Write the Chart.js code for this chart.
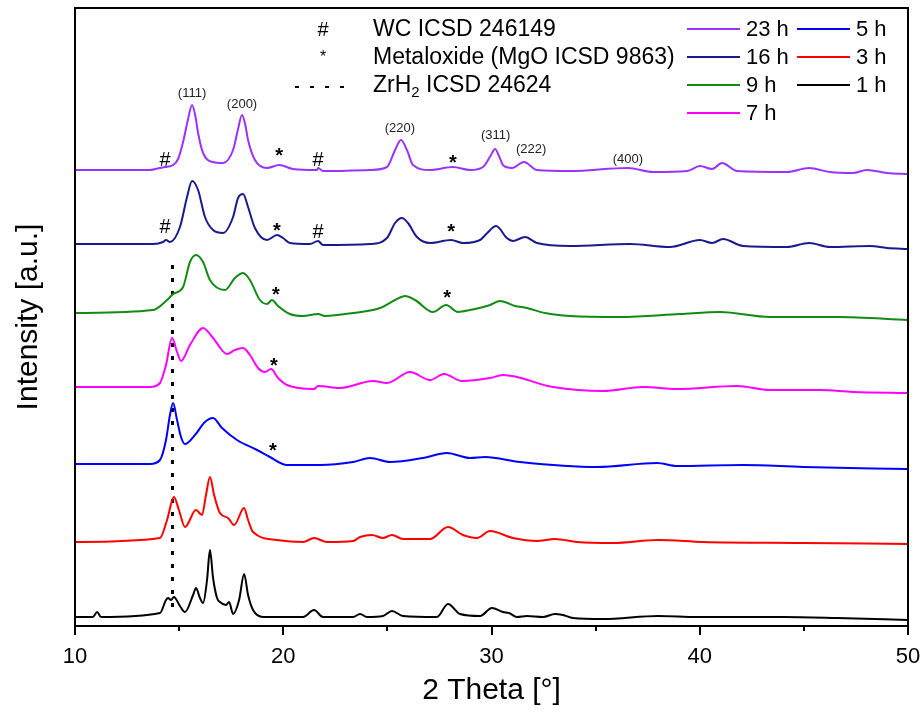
<!DOCTYPE html>
<html>
<head>
<meta charset="utf-8">
<script src="https://cdn.jsdelivr.net/npm/chart.js@4/dist/chart.umd.min.js"></script>
<style>
  html, body { margin: 0; padding: 0; background: #fff; }
  canvas { display: block; }
</style>
</head>
<body>
<canvas id="xrd" width="924" height="720"></canvas>
<script>
// Stacked XRD patterns, intensity already offset per milling time (a.u.)
const h23 = [[10.0,456],[13.6,456],[14.08,458],[14.32,459],[14.71,461],[14.95,467],[15.19,484],[15.42,506],[15.62,521],[15.78,510],[15.91,493],[16.15,473],[16.63,464],[17.11,463],[17.59,476],[17.82,496],[18.02,511],[18.17,502],[18.31,486],[18.64,466],[19.22,458],[19.8,461],[20.47,457],[21.62,456],[21.67,458],[21.91,455],[24.17,456],[24.98,459],[25.37,476],[25.65,486],[25.94,476],[26.23,461],[27.05,456],[28.15,459],[28.97,456],[29.59,459],[29.95,470],[30.17,477],[30.38,469],[30.55,461],[30.98,458],[31.56,464],[32.18,456],[33.77,455],[36.55,458],[37.76,454],[39.39,455],[40.01,460],[40.59,457],[41.07,463],[41.79,455],[44.19,454],[45.25,458],[46.25,454],[47.36,453],[48.03,456],[48.99,453],[50.0,452]];
const h16 = [[10.0,382],[13.75,382],[14.23,384],[14.37,386],[14.56,384],[15.04,399],[15.38,429],[15.62,445],[15.91,436],[16.24,409],[16.63,396],[17.11,393],[17.59,409],[17.83,428],[18.07,432],[18.31,419],[18.64,398],[19.22,386],[19.7,391],[19.99,388],[20.32,383],[21.28,382],[21.67,385],[21.91,381],[24.17,382],[24.98,388],[25.37,403],[25.7,408],[25.99,403],[26.42,389],[27.05,383],[28.06,386],[28.63,383],[29.45,386],[29.75,392],[30.22,400],[30.74,388],[31.03,385],[31.61,389],[32.18,383],[33.77,380],[36.65,382],[38.57,379],[40.01,386],[40.59,383],[41.12,387],[42.08,380],[44.19,379],[45.25,383],[46.25,379],[48.17,380],[48.99,378],[50.0,377]];
const h9 = [[10.0,313],[13.75,316],[14.42,326],[14.71,332],[15.19,339],[15.52,364],[15.81,371],[16.15,364],[16.48,346],[17.2,336],[17.68,348],[18.07,353],[18.4,346],[18.88,326],[19.22,322],[19.46,326],[19.75,320],[20.32,312],[20.95,310],[21.67,312],[22.0,310],[23.35,313],[24.65,318],[25.37,326],[25.85,330],[26.33,326],[27.19,314],[27.82,321],[28.39,314],[28.97,316],[29.93,321],[30.41,325],[31.13,320],[31.7,318],[32.57,313],[33.77,310],[36.17,309],[39.05,312],[40.97,314],[43.37,309],[46.59,309],[50.0,306]];
const h7 = [[10.0,239],[13.6,239],[14.08,243],[14.37,261],[14.66,288],[14.9,274],[15.09,265],[15.52,281],[16.15,298],[16.63,288],[17.3,272],[17.68,276],[18.07,278],[18.4,271],[18.79,258],[19.12,254],[19.41,257],[19.75,248],[20.18,241],[21.48,237],[21.67,240],[22.72,238],[24.31,245],[24.98,243],[26.09,254],[27.05,246],[27.72,252],[28.58,245],[29.93,248],[30.55,251],[32.95,239],[35.35,235],[37.28,239],[38.91,237],[41.79,240],[43.37,236],[45.77,236],[47.36,234],[50.0,233]];
const h5 = [[10.0,162],[13.6,162],[14.08,166],[14.37,186],[14.56,211],[14.71,223],[14.9,206],[15.09,189],[15.28,182],[15.76,191],[16.24,204],[16.63,208],[17.06,198],[17.78,186],[18.74,176],[19.36,169],[20.18,161],[21.76,161],[23.35,164],[24.17,168],[25.13,164],[26.71,168],[27.86,173],[28.97,168],[29.69,169],[31.37,164],[35.07,159],[37.95,163],[38.91,160],[42.08,161],[44.96,159],[50.0,157]];
const h3 = [[10.0,84],[14.08,88],[14.42,106],[14.75,129],[14.99,116],[15.28,99],[15.81,116],[16.1,111],[16.29,131],[16.48,149],[16.68,131],[16.96,113],[17.35,108],[17.64,101],[18.12,118],[18.31,106],[18.55,94],[19.7,86],[20.95,84],[21.48,88],[22.1,84],[23.35,85],[23.69,89],[24.26,91],[24.79,88],[25.22,91],[25.75,87],[27.05,87],[27.91,99],[28.63,91],[29.3,88],[29.93,95],[31.03,88],[32.18,85],[33.05,87],[34.11,84],[35.83,83],[38.0,86],[40.16,84],[44.96,83],[50.0,82]];
const h1 = [[10.0,9],[10.86,9],[11.06,14],[11.25,9],[14.08,13],[14.37,26],[14.47,28],[14.61,26],[14.75,29],[15.04,20],[15.28,14],[15.67,31],[15.81,38],[16.0,28],[16.15,23],[16.34,46],[16.48,76],[16.63,48],[16.82,28],[16.96,24],[17.25,21],[17.4,24],[17.59,12],[17.88,26],[18.12,52],[18.31,31],[18.55,16],[19.03,9],[20.95,9],[21.48,16],[21.91,9],[23.35,9],[23.69,12],[24.02,9],[24.79,10],[25.22,15],[25.75,10],[27.38,9],[27.91,22],[28.49,12],[29.45,10],[30.02,18],[30.55,14],[30.84,13],[31.22,9],[31.7,10],[32.47,9],[33.05,12],[33.43,11],[33.91,8],[35.35,7],[38.0,10],[39.87,9],[41.12,9],[44.0,9],[46.59,8],[50.0,6]];

const seriesNames  = ['23 h', '16 h', '9 h', '7 h', '5 h', '3 h', '1 h'];
const seriesData   = [h23, h16, h9, h7, h5, h3, h1];
const seriesColors = ['#9933ff', '#1a1a8c', '#138a13', '#ff00ff', '#0000ff', '#ff0000', '#000000'];

// ZrH2 reflection marker (dotted vertical line)
const zrh2Line = [[14.68, 361], [14.68, 11]];

// phase markers: # = WC, * = metal oxide
const phaseMarks = [
  [14.32, 466, '#'], [19.80, 474, '*'], [21.67, 466, '#'], [28.15, 467, '*'],
  [14.32, 399, '#'], [19.70, 399, '*'], [21.67, 394, '#'], [28.06, 398, '*'],
  [19.65, 335, '*'], [27.87, 332, '*'],
  [19.55, 264, '*'],
  [19.50, 179, '*']
];
// Miller indices of the main phase
const hklLabels = [
  [15.62, 533, '(111)'], [18.02, 522, '(200)'], [25.60, 498, '(220)'],
  [30.20, 491, '(311)'], [31.90, 477, '(222)'], [36.55, 467, '(400)']
];
const xTicks = [10, 20, 30, 40, 50];
const xMinorTicks = [15, 25, 35, 45];

const FONT = "'Liberation Sans', Arial, sans-serif";

const datasets = seriesData.map((pts, i) => ({
  label: seriesNames[i],
  data: pts.map(([x, y]) => ({ x, y })),
  borderColor: seriesColors[i],
  borderWidth: 2,
  pointRadius: 0,
  cubicInterpolationMode: 'monotone',
  fill: false
}));
datasets.push({
  label: 'ZrH2',
  data: zrh2Line.map(([x, y]) => ({ x, y })),
  borderColor: '#000',
  borderWidth: 3,
  borderDash: [4, 9],
  pointRadius: 0,
  fill: false
});

const decor = {
  id: 'decor',
  afterDatasetsDraw(chart) {
    const { ctx, chartArea: a, scales: { x, y } } = chart;
    ctx.save();
    // frame
    ctx.strokeStyle = '#000';
    ctx.lineWidth = 2;
    ctx.strokeRect(a.left, a.top, a.right - a.left, a.bottom - a.top);
    // bottom ticks
    ctx.beginPath();
    xTicks.forEach(v => { const px = Math.round(x.getPixelForValue(v)); ctx.moveTo(px, a.bottom); ctx.lineTo(px, a.bottom + 9); });
    xMinorTicks.forEach(v => { const px = Math.round(x.getPixelForValue(v)); ctx.moveTo(px, a.bottom); ctx.lineTo(px, a.bottom + 5); });
    ctx.stroke();

    ctx.fillStyle = '#000';
    ctx.textAlign = 'center';
    ctx.textBaseline = 'middle';
    // phase markers
    phaseMarks.forEach(([vx, vy, t]) => {
      ctx.font = (t === '#' ? '20px ' : 'bold 20px ') + FONT;
      ctx.fillText(t, x.getPixelForValue(vx), y.getPixelForValue(vy) + (t === '*' ? 4 : 0));
    });
    // hkl labels
    ctx.font = '13px ' + FONT;
    ctx.fillStyle = '#222';
    hklLabels.forEach(([vx, vy, t]) => ctx.fillText(t, x.getPixelForValue(vx), y.getPixelForValue(vy)));

    // axis titles
    ctx.fillStyle = '#000';
    ctx.font = '30px ' + FONT;
    ctx.fillText('2 Theta [°]', (a.left + a.right) / 2, 691);
    ctx.save();
    ctx.translate(29, (a.top + a.bottom) / 2);
    ctx.rotate(-Math.PI / 2);
    ctx.fillText('Intensity [a.u.]', 0, 0);
    ctx.restore();

    // phase key (upper middle)
    ctx.font = '20px ' + FONT;
    ctx.textAlign = 'center';
    ctx.fillText('#', 323, 30);
    ctx.font = '16px ' + FONT;
    ctx.fillText('*', 323, 58);
    ctx.strokeStyle = '#000';
    ctx.lineWidth = 2;
    ctx.setLineDash([4, 11]);
    ctx.beginPath(); ctx.moveTo(295, 87); ctx.lineTo(350, 87); ctx.stroke();
    ctx.setLineDash([]);
    ctx.textAlign = 'left';
    const tx = 373;
    ctx.font = '23px ' + FONT;
    ctx.fillText('WC ICSD 246149', tx, 30);
    ctx.fillText('Metaloxide (MgO ICSD 9863)', tx, 58);
    ctx.fillText('ZrH', tx, 86);
    let w = ctx.measureText('ZrH').width;
    ctx.font = '15px ' + FONT;
    ctx.fillText('2', tx + w, 93);
    w += ctx.measureText('2').width;
    ctx.font = '23px ' + FONT;
    ctx.fillText(' ICSD 24624', tx + w, 86);

    // series key, two columns
    const slots = [[0, 0], [1, 0], [2, 0], [3, 0], [0, 1], [1, 1], [2, 1]];
    ctx.font = '22px ' + FONT;
    slots.forEach(([row, col], i) => {
      const lx = col === 0 ? 687 : 797;
      const ly = 29 + row * 28;
      ctx.strokeStyle = seriesColors[i];
      ctx.lineWidth = 2;
      ctx.beginPath(); ctx.moveTo(lx, ly); ctx.lineTo(lx + 53, ly); ctx.stroke();
      ctx.fillStyle = '#000';
      ctx.fillText(seriesNames[i], lx + 59, ly + 1);
    });
    ctx.restore();
  }
};

new Chart(document.getElementById('xrd'), {
  type: 'line',
  data: { datasets },
  options: {
    responsive: false,
    animation: false,
    layout: { padding: { top: 8, right: 16, left: 0, bottom: 0 } },
    plugins: { legend: { display: false }, tooltip: { enabled: false } },
    scales: {
      x: {
        type: 'linear', min: 10, max: 50,
        grid: { display: false }, border: { display: false },
        ticks: { stepSize: 10, color: '#000', padding: 10, maxRotation: 0, font: { family: FONT, size: 22 } },
        afterFit(s) { s.height = 94; s.paddingLeft = 0; s.paddingRight = 0; }
      },
      y: {
        min: 0, max: 618,
        grid: { display: false }, border: { display: false },
        ticks: { display: false },
        afterFit(s) { s.width = 75; }
      }
    }
  },
  plugins: [decor]
});
</script>
</body>
</html>
